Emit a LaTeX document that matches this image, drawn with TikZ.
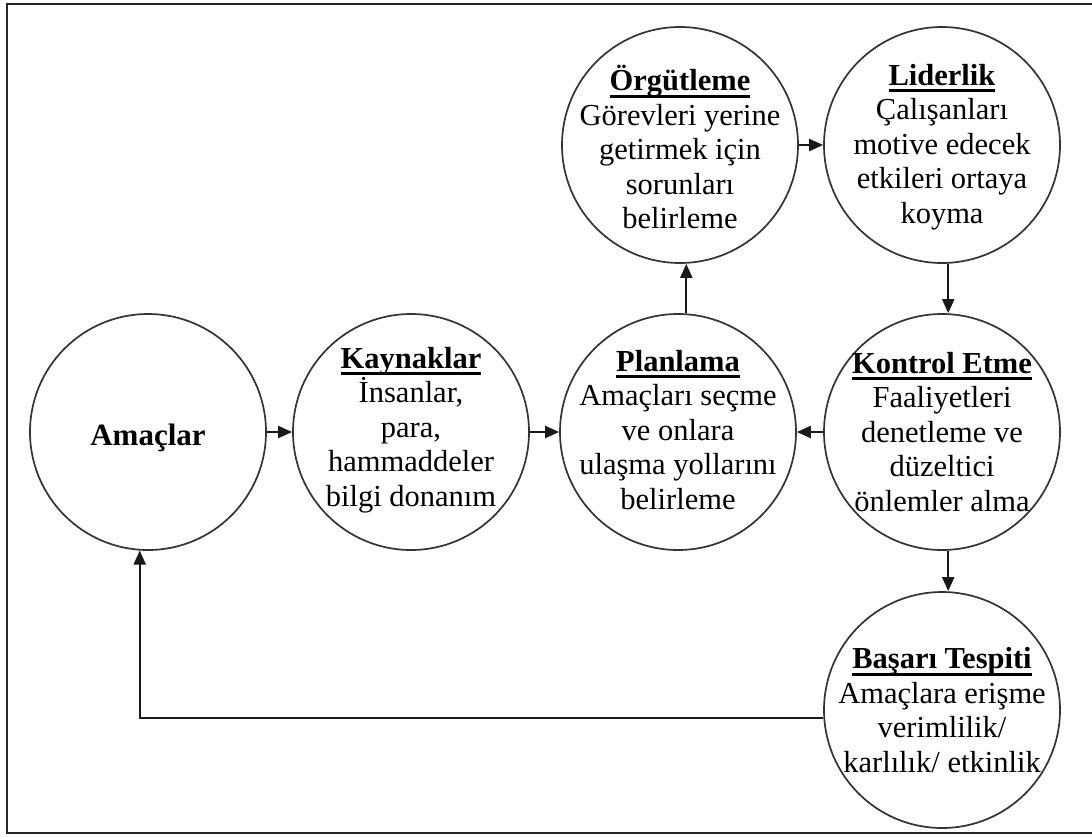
\documentclass[tikz,border=0pt]{standalone}
\usepackage{fontspec}
\setmainfont{Liberation Serif}
\usetikzlibrary{arrows.meta,calc}
\newcommand{\hdline}[1]{\setbox0=\hbox{\bfseries #1}\rlap{\raisebox{-7pt}{\rule{\wd0}{3pt}}}\box0}
\begin{document}
\begin{tikzpicture}[x=1pt,y=-1pt,
  circ/.style={circle,draw=black!80,line width=1.7pt,minimum size=236pt,inner sep=0pt},
  txt/.style={align=center,font=\fontsize{30.5}{34.5}\selectfont,inner sep=0pt},
  arr/.style={line width=2pt,draw=black!90,-{Triangle[length=14pt,width=12pt]}},
  frame/.style={line width=2.5pt,draw=black!85}
]
\useasboundingbox (0,0) rectangle (1092,836);
\draw[frame] (1096,4) -- (7,4) -- (7,833) -- (1096,833);

% circles
\node[circ] (am)   at (148,432) {};
\node[circ] (kay)  at (411,432) {};
\node[circ] (plan) at (678,432) {};
\node[circ] (kon)  at (942,432) {};
\node[circ] (org)  at (680,145) {};
\node[circ] (lid)  at (942,145) {};
\node[circ] (bas)  at (942,710) {};

% texts
\node[txt,font=\fontsize{31}{34.5}\selectfont\bfseries] (amT) at ($(am)+(0,6)$) {Amaçlar};
\node[txt] (kayT) at ($(kay)+(0,-2)$) {\hdline{Kaynaklar}\\İnsanlar,\\para,\\hammaddeler\\bilgi donanım};
\node[txt] (planT) at ($(plan)+(0,-2)$) {\hdline{Planlama}\\Amaçları seçme\\ve onlara\\ulaşma yollarını\\belirleme};
\node[txt] (orgT) at ($(org)+(0,2)$) {\hdline{Örgütleme}\\Görevleri yerine\\getirmek için\\sorunları\\belirleme};
\node[txt] (lidT) at ($(lid)+(0,2)$) {\hdline{Liderlik}\\Çalışanları\\motive edecek\\etkileri ortaya\\koyma};
\node[txt] (konT) at (kon) {\hdline{Kontrol Etme}\\Faaliyetleri\\denetleme ve\\düzeltici\\önlemler alma};
\node[txt] (basT) at (bas) {\hdline{Başarı Tespiti}\\Amaçlara erişme\\verimlilik/\\karlılık/ etkinlik};

% connectors
\draw[arr] (am) -- (kay);
\draw[arr] (kay) -- (plan);
\draw[arr] (plan.86) -- (plan.86 |- org.south);
\draw[arr] (org) -- (lid);
\draw[arr] (lid.-87) -- (lid.-87 |- kon.north);
\draw[arr] (kon) -- (plan);
\draw[arr] (kon.-87) -- (kon.-87 |- bas.north);
\draw[arr] (bas.184) -| (am.-94);
\end{tikzpicture}
\end{document}
